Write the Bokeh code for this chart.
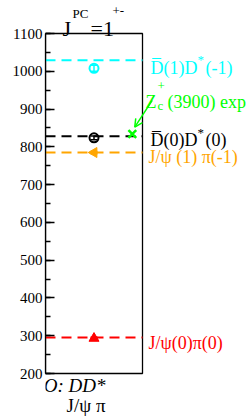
from bokeh.plotting import figure
from bokeh.models import Label, Arrow, OpenHead, Range1d, SingleIntervalTicker
from bokeh.embed import file_html
from bokeh.resources import INLINE

# ---- data ----
levels = [1029, 828, 785, 295]               # dashed non-interacting levels
level_colors = ["#00ffff", "#000000", "#ffa500", "#ff0000"]
pts_x = [1, 1, 1, 1]
pts_y = [1008, 824, 785, 293]
pts_err = [8, 5, 3, 3]
pts_angle = [0, 0, 1.5708, 0]
zc_x = [1.79]
zc_y = [834]

FONT = "'Liberation Serif'"
XMAX = 2
YMIN, YMAX = 200, 1100

# frame spans the canvas right/top/bottom so that outside texts are not clipped
p = figure(width=249, height=416, output_backend="svg", toolbar_location=None,
           x_range=Range1d(0, 4.206), y_range=Range1d(86.2, 1187.4),
           min_border_left=45, min_border_right=0, min_border_top=0, min_border_bottom=0)
p.grid.visible = False
p.xaxis.visible = False
p.outline_line_color = None
p.background_fill_color = "white"
p.border_fill_color = "white"

ya = p.yaxis[0]
ya.bounds = (YMIN, YMAX)
ya.ticker = SingleIntervalTicker(interval=100, num_minor_ticks=2)
ya.major_tick_in = 9
ya.major_tick_out = 0
ya.minor_tick_in = 5
ya.minor_tick_out = 0
ya.major_tick_line_width = 1.3
ya.minor_tick_line_width = 1.3
ya.axis_line_width = 1.3
ya.major_label_text_font = FONT
ya.major_label_text_font_size = "15px"
ya.major_label_text_color = "black"
ya.major_label_standoff = 3

# plot box
p.quad(left=[0], right=[XMAX], bottom=[YMIN], top=[YMAX], fill_color=None,
       line_color="black", line_width=1.3)

p.segment(x0=[0] * len(levels), y0=levels, x1=[XMAX] * len(levels), y1=levels,
          line_color=level_colors, line_width=2, line_dash="10 6")

for i in range(4):
    c = level_colors[i]
    x, y, e = pts_x[i], pts_y[i], pts_err[i]
    p.segment(x0=[x], y0=[y - e], x1=[x], y1=[y + e], line_color=c, line_width=1.5)
    p.scatter([x, x], [y - e, y + e], marker="dash", size=7, line_color=c, line_width=1.5)
    if i < 2:
        p.scatter([x], [y], marker="circle", size=9, fill_color=None, line_color=c, line_width=2)
    else:
        p.scatter([x], [y], marker="triangle", size=10, angle=pts_angle[i],
                  fill_color=c, line_color=c)

p.scatter(zc_x, zc_y, marker="x", size=11, line_color="#00ff00", line_width=2.5)
p.add_layout(Arrow(end=OpenHead(size=8, line_color="#00ff00", line_width=1.5),
                   x_start=2.2, y_start=923, x_end=1.84, y_end=852,
                   line_color="#00ff00", line_width=1.5))


def lab(text, x, y, dx=0, dy=0, size="18px", color="black", style="normal", align="left"):
    p.add_layout(Label(x=x, y=y, x_offset=dx, y_offset=dy, text=text, text_font=FONT,
                       text_font_size=size, text_color=color, text_font_style=style,
                       text_align=align, text_baseline="alphabetic"))

# title
lab("J", 1, YMAX, -31.5, 5, "22px")
lab("PC", 1, YMAX, -21.5, 20, "13px")
lab("=1", 1, YMAX, -3.5, 5, "22px")
lab("+-", 1, YMAX, 18.5, 23, "13px")

# right labels
cy = level_colors[0]
lab("D\u0305(1)D", XMAX, 1010, 8, 0, color=cy)
lab("*", XMAX, 1010, 55, 8, "13px", color=cy)
lab("(-1)", XMAX, 1010, 63, 0, color=cy)

g = "#00ff00"
lab("Z", XMAX, 919, 3, 0, color=g)
lab("c", XMAX, 919, 15, -4, "13px", color=g)
lab("+", XMAX, 919, 15, 16, "13px", color=g)
lab("(3900) exp", XMAX, 919, 25, 0, color=g)

lab("D\u0305(0)D", XMAX, 817, 8, 0)
lab("*", XMAX, 817, 55, 8, "13px")
lab("(0)", XMAX, 817, 63, 0)

lab("J/\u03c8 (1) \u03c0(-1)", XMAX, 772, 6, 0, color=level_colors[2])
lab("J/\u03c8(0)\u03c0(0)", XMAX, 282, 6, 0, color=level_colors[3])

# bottom labels
lab("O: DD*", 1.237, 168, 0, 0, "19px", style="italic", align="right")
lab("J/\u03c8 \u03c0", 1.237, 115, 0, 0, "19px", align="right")

open("out.html", "w").write(file_html(p, INLINE))
